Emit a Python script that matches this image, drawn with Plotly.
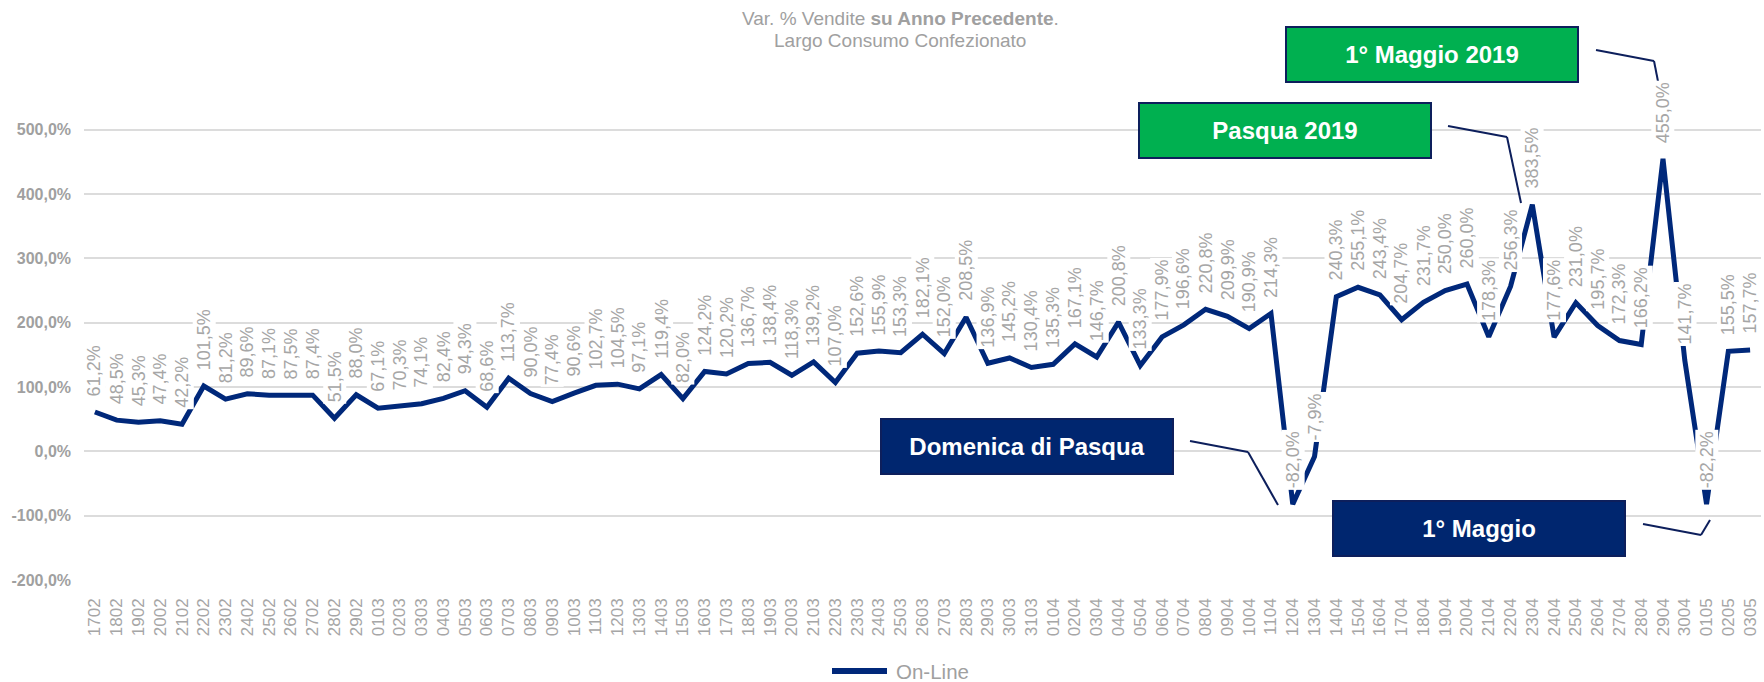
import plotly.graph_objects as go

categories = ["1702","1802","1902","2002","2102","2202","2302","2402","2502","2602","2702","2802","2902",
              "0103","0203","0303","0403","0503","0603","0703","0803","0903","1003","1103","1203","1303",
              "1403","1503","1603","1703","1803","1903","2003","2103","2203","2303","2403","2503","2603",
              "2703","2803","2903","3003","3103",
              "0104","0204","0304","0404","0504","0604","0704","0804","0904","1004","1104","1204","1304",
              "1404","1504","1604","1704","1804","1904","2004","2104","2204","2304","2404","2504","2604",
              "2704","2804","2904","3004",
              "0105","0205","0305"]

online = [61.2, 48.5, 45.3, 47.4, 42.2, 101.5, 81.2, 89.6, 87.1, 87.5, 87.4, 51.5, 88.0,
          67.1, 70.3, 74.1, 82.4, 94.3, 68.6, 113.7, 90.0, 77.4, 90.6, 102.7, 104.5, 97.1,
          119.4, 82.0, 124.2, 120.2, 136.7, 138.4, 118.3, 139.2, 107.0, 152.6, 155.9, 153.3, 182.1,
          152.0, 208.5, 136.9, 145.2, 130.4,
          135.3, 167.1, 146.7, 200.8, 133.3, 177.9, 196.6, 220.8, 209.9, 190.9, 214.3, -82.0, -7.9,
          240.3, 255.1, 243.4, 204.7, 231.7, 250.0, 260.0, 178.3, 256.3, 383.5, 177.6, 231.0, 195.7,
          172.3, 166.2, 455.0, 141.7,
          -82.2, 155.5, 157.7]

series_name = "On-Line"

y_tickvals = [-200, -100, 0, 100, 200, 300, 400, 500]
y_ticktext = ["-200,0%", "-100,0%", "0,0%", "100,0%", "200,0%", "300,0%", "400,0%", "500,0%"]

callout_texts = ["1° Maggio 2019", "Pasqua 2019", "Domenica di Pasqua", "1° Maggio"]

title_lines = ["Var. % Vendite <b>su Anno Precedente</b>.", "Largo Consumo Confezionato"]

# ---- layout geometry (pixels) ----
W, H = 1764, 682
ML, MR, MT, MB = 84, 3, 59, 102
PW = W - ML - MR
PH = H - MT - MB

def px_x(px):
    return (px - ML) / PW

def px_y(py):
    return (H - MB - py) / PH

NAVY = "#00287A"
BOXNAVY = "#00266F"
GREEN = "#00B050"
GRAY = "#A6A6A6"
FONT = "Liberation Sans, Arial, sans-serif"

fig = go.Figure()
fig.add_trace(go.Scatter(
    x=categories, y=online, mode="lines", name=series_name,
    line=dict(color=NAVY, width=5), showlegend=False,
))

annotations = []
# title as two annotation lines
for txt, cy in zip(title_lines, (18, 40)):
    annotations.append(dict(
        x=px_x(900), y=px_y(cy), xref="paper", yref="paper",
        text=txt, showarrow=False, xanchor="center", yanchor="middle",
        font=dict(size=19, color="#A0A0A0", family=FONT),
    ))

for i, v in enumerate(online):
    annotations.append(dict(
        x=i, y=v, xref="x", yref="y",
        text=f"{v:.1f}".replace(".", ",") + "%",
        textangle=-90, showarrow=False,
        xanchor="center", yanchor="bottom", yshift=14,
        font=dict(size=18, color=GRAY, family=FONT),
        bgcolor="white", borderpad=1,
    ))

# callout boxes: (center px x, center px y, fill)
box_specs = [
    (1431.5, 54.5, GREEN),
    (1284.5, 130.5, GREEN),
    (1026.5, 446.0, BOXNAVY),
    (1479.0, 528.5, BOXNAVY),
]
for txt, (cx, cy, fill) in zip(callout_texts, box_specs):
    annotations.append(dict(
        x=px_x(cx), y=px_y(cy), xref="paper", yref="paper",
        text=f"<b>{txt}</b>", showarrow=False,
        xanchor="center", yanchor="middle",
        width=290, height=53, align="center", valign="middle",
        font=dict(size=24, color="white", family=FONT),
        bgcolor=fill, bordercolor="#0D1F5C", borderwidth=2, borderpad=0,
    ))

leaders = [
    [(1596, 50), (1654, 61), (1667, 127)],
    [(1448, 126), (1507, 137), (1521, 203)],
    [(1190, 441), (1248, 452), (1278, 505)],
    [(1643, 524), (1701, 535), (1710, 520)],
]
shapes = []
for pts in leaders:
    for (x0, y0), (x1, y1) in zip(pts[:-1], pts[1:]):
        shapes.append(dict(type="line", xref="paper", yref="paper",
                           x0=px_x(x0), y0=px_y(y0), x1=px_x(x1), y1=px_y(y1),
                           line=dict(color="#0D1F5C", width=2)))

# custom legend (long line sample + label) at the bottom centre
shapes.append(dict(type="line", xref="paper", yref="paper",
                   x0=px_x(832), y0=px_y(671), x1=px_x(887), y1=px_y(671),
                   line=dict(color=NAVY, width=6)))
annotations.append(dict(
    x=px_x(894), y=px_y(671), xref="paper", yref="paper",
    text=series_name, showarrow=False, xanchor="left", yanchor="middle",
    font=dict(size=20.5, color="#A0A0A0", family=FONT),
))

fig.update_layout(
    width=W, height=H,
    margin=dict(l=ML, r=MR, t=MT, b=MB, autoexpand=False),
    paper_bgcolor="white", plot_bgcolor="white",
    font=dict(family=FONT),
    xaxis=dict(
        type="category", range=[-0.5, len(categories) - 0.5],
        tickangle=-90, showgrid=False, zeroline=False, showline=False,
        tickfont=dict(size=17, color=GRAY, family=FONT),
        ticks="", ticklabelstandoff=14, automargin=False,
    ),
    yaxis=dict(
        range=[-200, 610], tickvals=y_tickvals, ticktext=y_ticktext,
        showgrid=True, gridcolor="#DCDCDC", gridwidth=1.5,
        zeroline=True, zerolinecolor="#DCDCDC", zerolinewidth=1.5,
        showline=False, ticks="", ticklabelstandoff=12, automargin=False,
        tickfont=dict(size=16, color="#A0A0A0", family=FONT, weight="bold"),
    ),
    showlegend=False,
    annotations=annotations,
    shapes=shapes,
)

fig.write_html(
    "out.html",
    config={"displayModeBar": False},
    post_script="document.body.style.margin='0px';document.body.style.overflow='hidden';",
)
